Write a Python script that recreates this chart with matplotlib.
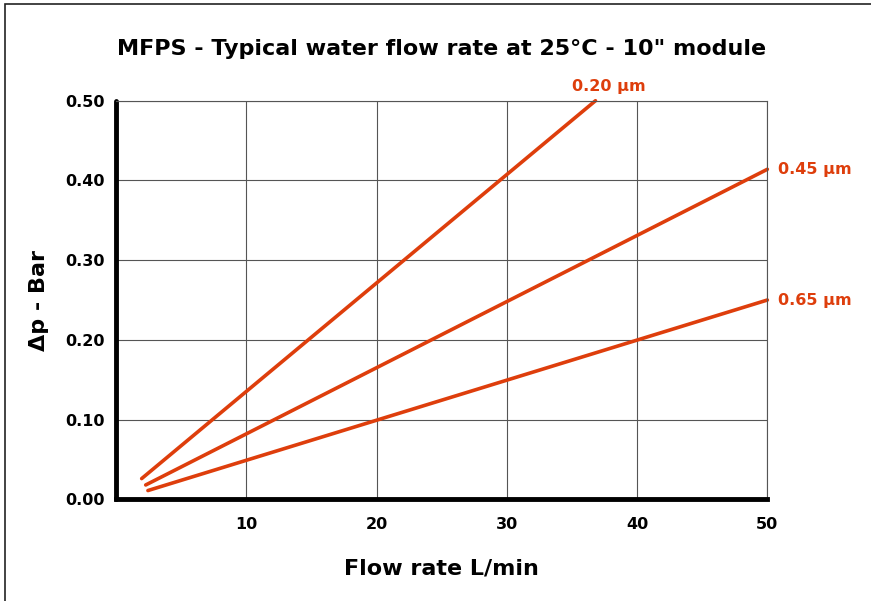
import matplotlib.pyplot as plt
from matplotlib.patches import Rectangle

# Flow rate (L/min) and pressure drop (bar) at the ends of each line
grades = ["0.20 µm", "0.45 µm", "0.65 µm"]
flow_020 = [1.95, 36.8]
dp_020 = [0.026, 0.50]
flow_045 = [2.26, 50]
dp_045 = [0.018, 0.414]
flow_065 = [2.43, 50]
dp_065 = [0.011, 0.250]

x_ticks = [10, 20, 30, 40, 50]
y_ticks = [0.0, 0.1, 0.2, 0.3, 0.4, 0.5]

red = "#DE3E0C"

plt.rcParams["font.family"] = "DejaVu Sans"
plt.rcParams["font.weight"] = "bold"

fig = plt.figure(figsize=(8.71, 6.01), dpi=100)
ax = fig.add_axes([0.1335, 0.1692, 0.7475, 0.6632])

# outer frame of the picture
fig.patches.append(Rectangle((5 / 871, -0.1), 1.1, 1.1 - 3.5 / 601, transform=fig.transFigure,
                             fill=False, edgecolor="#222222", linewidth=1.2))

series = [(flow_020, dp_020), (flow_045, dp_045), (flow_065, dp_065)]
for (x, y) in series:
    ax.plot(x, y, color=red, linewidth=2.6, solid_capstyle="round", clip_on=False)

ax.set_xlim(0, 50)
ax.set_ylim(0, 0.5)
ax.set_xticks(x_ticks)
ax.set_yticks(y_ticks)
ax.set_yticklabels([f"{v:.2f}" for v in y_ticks])
ax.grid(True, color="#555555", linewidth=0.8)
ax.tick_params(length=0, labelsize=11.5)
ax.tick_params(axis="x", pad=13)
ax.tick_params(axis="y", pad=8)
for lbl in ax.get_xticklabels() + ax.get_yticklabels():
    lbl.set_fontweight("bold")

ax.spines["left"].set_linewidth(3.5)
ax.spines["bottom"].set_linewidth(3.5)
ax.spines["left"].set_capstyle("round")
for s in ["top", "right"]:
    ax.spines[s].set_linewidth(0.8)
    ax.spines[s].set_color("#555555")

# labels at the line ends
ax.text(flow_020[1] + 1.0, dp_020[1] + 0.008, grades[0], color=red, fontsize=11.5,
        fontweight="bold", ha="center", va="bottom")
ax.text(flow_045[1] + 0.8, dp_045[1], grades[1], color=red, fontsize=11.5,
        fontweight="bold", ha="left", va="center", clip_on=False)
ax.text(flow_065[1] + 0.8, dp_065[1], grades[2], color=red, fontsize=11.5,
        fontweight="bold", ha="left", va="center", clip_on=False)

ax.set_xlabel("Flow rate L/min", fontsize=16, fontweight="bold", labelpad=19)
ax.set_ylabel("Δp - Bar", fontsize=16, fontweight="bold", labelpad=12)
fig.text(0.507, 0.919, "MFPS - Typical water flow rate at 25°C - 10\" module",
         fontsize=16, fontweight="bold", ha="center", va="center")

fig.savefig("out.png", dpi=100)
